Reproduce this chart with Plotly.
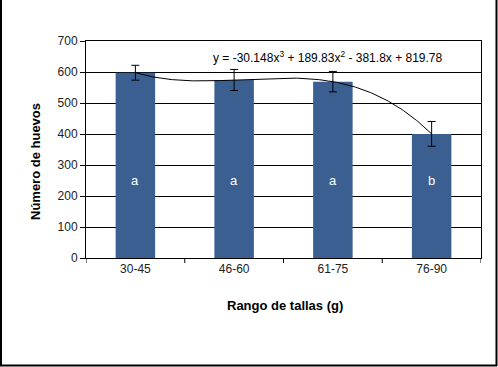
import numpy as np
import plotly.graph_objects as go

categories = ["30-45", "46-60", "61-75", "76-90"]
values = [597.66, 574.3, 568.85, 400.39]
errors = [24, 34, 33, 40]
letters = ["a", "a", "a", "b"]
letter_y = [250, 250, 250, 250]
equation = "y = -30.148x<sup>3</sup> + 189.83x<sup>2</sup> - 381.8x + 819.78"

W, H = 498, 367
ML, MR, MT, MB = 86, 17, 41, 109
PW, PH = W - ML - MR, H - MT - MB


def px(x):
    return (x - ML) / PW


def py(y):
    return (H - MB - y) / PH


xi = np.arange(1, len(values) + 1)
coef = np.polyfit(xi, values, 3)
xs = np.linspace(1, len(values), 200)
ys = np.polyval(coef, xs)

fig = go.Figure()
fig.add_trace(go.Bar(
    x=xi, y=values,
    marker=dict(color="#3B5F91", line=dict(width=0)),
    error_y=dict(type="data", array=errors, color="black", thickness=1, width=4),
    width=0.4,
    showlegend=False,
))
fig.add_trace(go.Scatter(
    x=xs, y=ys, mode="lines", line=dict(color="black", width=1),
    showlegend=False, hoverinfo="skip",
))

for xv, yv, t in zip(xi, letter_y, letters):
    fig.add_annotation(
        x=xv, y=yv, xref="x", yref="y", text=t, showarrow=False,
        xanchor="center", yanchor="middle",
        font=dict(size=13, color="white", family="Arial, Liberation Sans"),
    )

# category boundary tick marks (pointing down)
for b in np.arange(0.5, len(values) + 1, 1.0):
    fig.add_shape(type="line", xref="x", yref="paper",
                  x0=b, x1=b, y0=0, y1=-5 / PH,
                  line=dict(color="black", width=1))

fig.add_annotation(
    x=px(328), y=py(57), xref="paper", yref="paper",
    xanchor="center", yanchor="middle",
    text=equation, showarrow=False,
    font=dict(size=12, color="black", family="Arial, Liberation Sans"),
)
fig.add_annotation(
    x=px(35), y=py(162), xref="paper", yref="paper",
    xanchor="center", yanchor="middle",
    text="<b>Número de huevos</b>", showarrow=False, textangle=-90,
    font=dict(size=13, color="black", family="Arial, Liberation Sans"),
)
fig.add_annotation(
    x=px(285), y=py(305), xref="paper", yref="paper",
    xanchor="center", yanchor="middle",
    text="<b>Rango de tallas (g)</b>", showarrow=False,
    font=dict(size=13, color="black", family="Arial, Liberation Sans"),
)

for (x0, y0, x1, y1) in [(1, 0, 1, 366), (496.5, 0, 496.5, 366), (0, 365.5, 497, 365.5)]:
    fig.add_shape(type="line", xref="paper", yref="paper",
                  x0=px(x0), y0=py(y0), x1=px(x1), y1=py(y1),
                  line=dict(color="black", width=2))

fig.update_layout(
    width=W, height=H,
    margin=dict(l=ML, r=MR, t=MT, b=MB, autoexpand=False),
    paper_bgcolor="white", plot_bgcolor="white",
    font=dict(family="Arial, Liberation Sans", size=12, color="black"),
    bargap=0.6,
)
fig.update_xaxes(
    range=[0.5, 4.5], tickvals=xi, ticktext=categories,
    showline=True, linecolor="black", linewidth=1, mirror=True,
    ticks="", showgrid=False, zeroline=False, automargin=False,
    tickfont=dict(size=12, color="#222222"),
)
fig.update_yaxes(
    range=[0, 700], dtick=100,
    showline=True, linecolor="black", linewidth=1, mirror=True,
    ticks="outside", ticklen=5, tickcolor="black",
    showgrid=True, gridcolor="black", gridwidth=1, zeroline=False, automargin=False,
    tickfont=dict(size=12, color="#222222"),
)

fig.write_html(
    "out.html",
    config={"displayModeBar": False},
    post_script="document.body.style.margin='0';document.body.style.overflow='hidden';",
)
